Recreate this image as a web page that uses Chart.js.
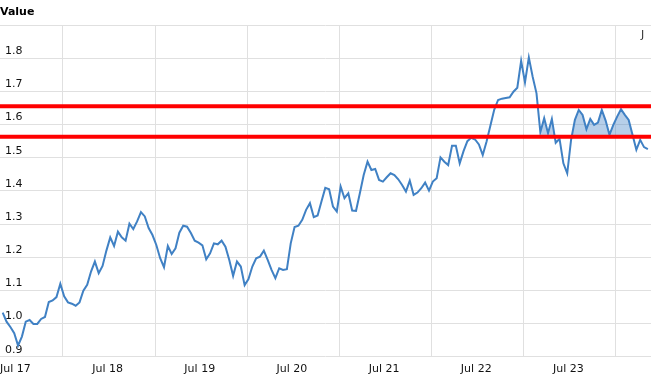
<!DOCTYPE html>
<html><head><meta charset="utf-8">
<script src="https://cdn.jsdelivr.net/npm/chart.js@4.4.1/dist/chart.umd.min.js"></script>
<style>html,body{margin:0;padding:0;background:#fff;overflow:hidden}#wrap{position:relative;width:651px;height:382px}</style>
</head><body><div id="wrap"><canvas id="c"></canvas></div>
<script>
// ---- data ----
const seriesName = 'Value';
const firstMonth = 4.15;   // months since Jan 2017 of first observation
const monthStep = 0.5;     // semi-monthly observations
const values = [
  1.033, 1.006, 0.990, 0.971, 0.934, 0.961, 1.006, 1.011, 0.999, 0.999,
  1.014, 1.020, 1.065, 1.070, 1.080, 1.120, 1.082, 1.064, 1.060, 1.054,
  1.064, 1.099, 1.117, 1.157, 1.187, 1.152, 1.174, 1.220, 1.260, 1.234,
  1.277, 1.260, 1.250, 1.301, 1.285, 1.308, 1.336, 1.323, 1.288, 1.267,
  1.237, 1.197, 1.170, 1.234,
  1.210, 1.227, 1.274, 1.295, 1.292, 1.273, 1.250, 1.244, 1.236, 1.194,
  1.212, 1.242, 1.239, 1.250, 1.232, 1.192, 1.144, 1.187, 1.172, 1.116,
  1.134, 1.172, 1.197, 1.202, 1.220, 1.192, 1.162, 1.137, 1.167, 1.162,
  1.164, 1.242, 1.291, 1.295, 1.313, 1.343, 1.363, 1.321, 1.326, 1.368,
  1.409, 1.405,
  1.353, 1.338, 1.413, 1.378, 1.393, 1.341, 1.340, 1.393, 1.448, 1.488,
  1.463, 1.466, 1.433, 1.428, 1.441, 1.453, 1.448, 1.435, 1.418, 1.398,
  1.431, 1.388, 1.395, 1.408, 1.425, 1.401, 1.428, 1.438,
  1.501, 1.488, 1.478, 1.536, 1.536, 1.483, 1.520, 1.550, 1.560, 1.555,
  1.540, 1.508, 1.549, 1.597, 1.645, 1.674, 1.678, 1.680, 1.682, 1.699,
  1.711, 1.792, 1.727, 1.802, 1.744, 1.694, 1.577, 1.619, 1.574, 1.617,
  1.545, 1.557, 1.483, 1.453, 1.554, 1.614, 1.644, 1.629, 1.586, 1.617,
  1.599, 1.606, 1.644, 1.612, 1.569, 1.599, 1.624, 1.646, 1.629, 1.614,
  1.569, 1.524, 1.554, 1.532, 1.526
];
const thresholds = [1.655, 1.563];   // upper, lower red lines
const highlightFrom = 140;           // first index of shaded stretch
const yearLabels = ['17', '18', '19', '20', '21', '22', '23'];
const axisMinMonth = 3.7975;
const axisMaxMonth = 88.557;
const yMin = 0.9, yMax = 1.9, yStep = 0.1;
const cornerText = 'J';

// ---- build ----
const points = values.map((v, i) => ({ x: firstMonth + i * monthStep, y: v }));
const shaded = points.slice(highlightFrom);
const FONT = 'DejaVu Sans';

const cornerPlugin = {
  id: 'cornerText',
  afterDraw(chart) {
    const ctx = chart.ctx;
    ctx.save();
    ctx.font = '11px "' + FONT + '"';
    ctx.fillStyle = '#333';
    ctx.textBaseline = 'middle';
    ctx.textAlign = 'left';
    ctx.fillText(cornerText, 641, 35);
    ctx.restore();
  }
};

new Chart(document.getElementById('c'), {
  type: 'line',
  data: {
    datasets: [
      { data: thresholds.slice(0, 1).flatMap(t => [{ x: axisMinMonth, y: t }, { x: axisMaxMonth, y: t }]),
        borderColor: '#ff0000', borderWidth: 4, pointRadius: 0, fill: false, order: 0 },
      { data: thresholds.slice(1, 2).flatMap(t => [{ x: axisMinMonth, y: t }, { x: axisMaxMonth, y: t }]),
        borderColor: '#ff0000', borderWidth: 4, pointRadius: 0, fill: false, order: 0 },
      { label: seriesName, data: points, borderColor: '#4081c4', borderWidth: 2,
        pointRadius: 0, tension: 0, fill: false, order: 1 },
      { data: shaded, borderWidth: 0, borderColor: 'rgba(0,0,0,0)', pointRadius: 0, tension: 0,
        fill: { value: thresholds[1], above: 'rgba(74,134,200,0.4)', below: 'rgba(0,0,0,0)' }, order: 2 }
    ]
  },
  options: {
    responsive: true,
    maintainAspectRatio: false,
    animation: false,
    layout: { padding: 0 },
    plugins: {
      legend: { display: false },
      tooltip: { enabled: false },
      title: { display: true, text: seriesName, align: 'start', color: '#000',
        font: { family: FONT, size: 11, weight: 'bold' }, padding: { top: 6, bottom: 5.8 } }
    },
    scales: {
      x: {
        type: 'linear', min: axisMinMonth, max: axisMaxMonth,
        border: { display: false },
        grid: { drawTicks: false, lineWidth: 1,
          color: c => (c.tick && Math.round(c.tick.value) % 12 === 0) ? '#e0e0e0' : 'rgba(0,0,0,0)' },
        afterBuildTicks: s => {
          const t = [];
          for (let m = 6; m <= 84; m += 6) t.push({ value: m });
          s.ticks = t;
        },
        afterFit: s => { s.paddingLeft = 0; s.paddingRight = 0; },
        ticks: { autoSkip: false, maxRotation: 0, padding: 6, labelOffset: -1.5, color: '#111',
          font: { family: FONT, size: 11 },
          callback: v => (Math.round(v) % 12 === 6) ? 'Jul ' + yearLabels[(Math.round(v) - 6) / 12] : '' }
      },
      y: {
        min: yMin, max: yMax,
        border: { display: false },
        grid: { drawTicks: false, color: '#e0e0e0', lineWidth: 1 },
        afterFit: s => { s.width = 0; s.paddingTop = 0; s.paddingBottom = 0; },
        ticks: { stepSize: yStep, mirror: true, padding: 5, labelOffset: -7, color: '#111',
          font: { family: FONT, size: 11 },
          callback: v => v > yMax - yStep / 2 ? '' : Number(v).toFixed(1) }
      }
    }
  },
  plugins: [cornerPlugin]
});
</script>
</body></html>
